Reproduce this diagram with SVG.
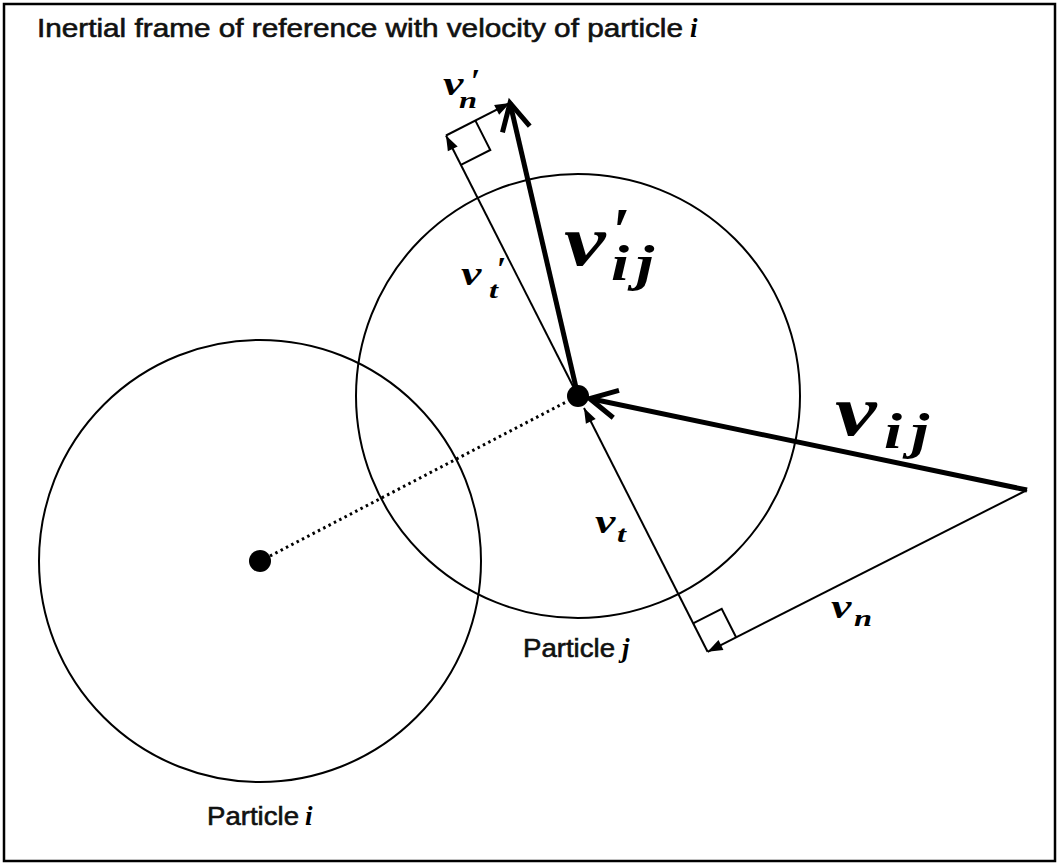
<svg xmlns="http://www.w3.org/2000/svg" width="1059" height="865" viewBox="0 0 1059 865">
<style>
.lbl{font-family:"Liberation Sans",Arial,sans-serif;font-size:26px;fill:#111;stroke:#111;stroke-width:0.6}
.mi{font-family:"Liberation Serif","Times New Roman",serif;font-weight:bold;font-style:italic;fill:#000}
.pr{font-family:"Liberation Serif","Times New Roman",serif;font-weight:bold;fill:#000}
.thin{stroke:#000;stroke-width:2;fill:none}
.thick{stroke:#000;stroke-width:5;fill:none}
</style>
<defs>
<marker id="chev" markerUnits="userSpaceOnUse" markerWidth="60" markerHeight="60" refX="0" refY="0" viewBox="-40 -30 60 60" orient="auto" overflow="visible">
<path d="M-27 -14 L0 0 L-27 14" fill="none" stroke="#000" stroke-width="5"/>
</marker>
<marker id="tri" markerUnits="userSpaceOnUse" markerWidth="30" markerHeight="30" refX="0" refY="0" viewBox="-20 -15 30 30" orient="auto" overflow="visible">
<path d="M0 0 L-15 -5.5 L-15 5.5 Z" fill="#000"/>
</marker>
</defs>
<rect x="4" y="4" width="1051" height="857" fill="#fff" stroke="#000" stroke-width="2.5"/>
<g id="title">
<text class="lbl" x="37" y="37" font-size="25" textLength="646" lengthAdjust="spacingAndGlyphs">Inertial frame of reference with velocity of particle</text>
<text class="mi" x="690" y="37" font-size="27">i</text>
</g>
<g id="particle-i">
<circle cx="260" cy="561" r="221" class="thin"/>
<circle cx="260" cy="561" r="11" fill="#000"/>
<text class="lbl" x="207" y="825" textLength="92" lengthAdjust="spacingAndGlyphs">Particle</text>
<text class="mi" x="305" y="825" font-size="27">i</text>
</g>
<g id="particle-j">
<circle cx="578" cy="396" r="222" class="thin"/>
<circle cx="578" cy="396" r="11" fill="#000"/>
<text class="lbl" x="523" y="657" textLength="92" lengthAdjust="spacingAndGlyphs">Particle</text>
<text class="mi" x="622" y="657" font-size="27">j</text>
</g>
<g id="connectors">
<line x1="270" y1="556" x2="568" y2="401" stroke="#000" stroke-width="3" stroke-dasharray="2.5 3.5"/>
<line x1="1027" y1="490" x2="589.7" y2="398.5" class="thick" marker-end="url(#chev)"/>
<line x1="578" y1="396" x2="510" y2="103" class="thick" marker-end="url(#chev)"/>
<line x1="1027" y1="490" x2="707.6" y2="651.8" class="thin" marker-end="url(#tri)"/>
<line x1="707.6" y1="651.8" x2="584" y2="408" class="thin" marker-end="url(#tri)"/>
<line x1="578" y1="396" x2="446" y2="135.5" class="thin" marker-end="url(#tri)"/>
<line x1="446" y1="135.5" x2="510" y2="103" class="thin" marker-end="url(#tri)"/>
<polyline points="475.4,120.6 490.3,150 460.9,164.9" class="thin"/>
<polyline points="693.1,623.3 721.7,608.8 736.1,637.3" class="thin"/>
</g>
<g id="labels">
<text class="mi" transform="translate(564,265) scale(1.3,1)" font-size="72">v</text>
<text class="pr" x="613" y="252" font-size="64">′</text>
<text class="mi" transform="translate(611,280) scale(1.3,1)" font-size="50">i</text>
<text class="mi" transform="translate(636,280) scale(1.3,1)" font-size="50">j</text>
<text class="mi" transform="translate(835,435) scale(1.3,1)" font-size="72">v</text>
<text class="mi" transform="translate(884,448) scale(1.3,1)" font-size="50">i</text>
<text class="mi" transform="translate(911,448) scale(1.3,1)" font-size="50">j</text>
<text class="mi" transform="translate(443,95) scale(1.35,1)" font-size="34">v</text>
<text class="pr" x="471" y="92" font-size="34">′</text>
<text class="mi" transform="translate(459,108) scale(1.35,1)" font-size="24">n</text>
<text class="mi" transform="translate(461,285) scale(1.35,1)" font-size="34">v</text>
<text class="pr" x="497" y="280" font-size="34">′</text>
<text class="mi" transform="translate(489,298) scale(1.35,1)" font-size="24">t</text>
<text class="mi" transform="translate(595,533) scale(1.35,1)" font-size="34">v</text>
<text class="mi" transform="translate(617,542) scale(1.35,1)" font-size="24">t</text>
<text class="mi" transform="translate(831,618) scale(1.35,1)" font-size="34">v</text>
<text class="mi" transform="translate(854,626) scale(1.35,1)" font-size="24">n</text>
</g>
</svg>
